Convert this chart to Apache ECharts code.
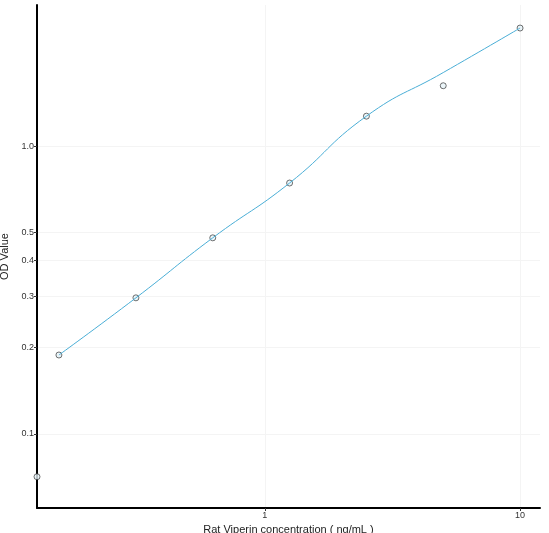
<!DOCTYPE html>
<html><head><meta charset="utf-8">
<script src="https://cdn.jsdelivr.net/npm/echarts@6/dist/echarts.min.js"></script>
<style>html,body{margin:0;padding:0;background:#fff}#c{width:549px;height:533px}</style>
</head><body><div id="c"></div>
<script>
const concentrations = [0, 0.156, 0.3125, 0.625, 1.25, 2.5, 5, 10];
const odValues = [0.071, 0.188, 0.297, 0.48, 0.744, 1.27, 1.62, 2.57];
const fitConc = [0.156, 0.3125, 0.625, 1.25, 2.5, 5, 10];
const fitOD = [0.188, 0.297, 0.48, 0.744, 1.27, 1.8, 2.57];
const xTicks = [1, 10];
const yTicks = [0.1, 0.2, 0.3, 0.4, 0.5, 1.0];
const xMin = Math.log10(0.128), xMax = Math.log10(11.97);
const yMin = Math.log10(0.0553), yMax = Math.log10(3.09);
const L = Math.log10;
const pts = concentrations.map((c,i)=>[c>0?L(c):xMin, L(odValues[i])]);
const fit = fitConc.map((c,i)=>[L(c), L(fitOD[i])]);
const chart = echarts.init(document.getElementById('c'));
chart.setOption({
  animation:false,
  grid:{left:37,right:9,top:5,bottom:25,containLabel:false,outerBoundsMode:'none'},
  xAxis:{type:'value',min:xMin,max:xMax,
    name:'Rat Viperin concentration ( ng/mL )',nameLocation:'middle',nameGap:10,
    nameTextStyle:{fontSize:11,color:'#222',fontFamily:'Liberation Sans'},
    axisLine:{show:true,onZero:false,lineStyle:{color:'#000',width:2}},
    axisTick:{show:true,customValues:xTicks.map(L),length:3,lineStyle:{color:'#333'}},
    axisLabel:{customValues:xTicks.map(L),formatter:v=>String(Math.round(Math.pow(10,v))),fontSize:9,color:'#333',margin:3},
    splitLine:{show:true,lineStyle:{color:'#f4f4f4'}}},
  yAxis:{type:'value',min:yMin,max:yMax,
    name:'OD Value',nameLocation:'middle',nameGap:24,
    nameTextStyle:{fontSize:11,color:'#222',fontFamily:'Liberation Sans'},
    axisLine:{show:true,onZero:false,lineStyle:{color:'#000',width:2}},
    axisTick:{show:true,customValues:yTicks.map(L),length:3,lineStyle:{color:'#333'}},
    axisLabel:{customValues:yTicks.map(L),formatter:v=>{const r=Math.pow(10,v);return r>=0.99?r.toFixed(1):(Math.round(r*10)/10).toString();},fontSize:9,color:'#333',margin:3},
    splitLine:{show:true,lineStyle:{color:'#f4f4f4'}}},
  series:[
    {type:'line',data:fit,smooth:0.5,showSymbol:false,lineStyle:{color:'#4aaed6',width:1},silent:true},
    {type:'scatter',data:pts,symbolSize:6,itemStyle:{color:'#e6f2f7',borderColor:'#222',borderWidth:0.8}}
  ]
});
</script></body></html>
